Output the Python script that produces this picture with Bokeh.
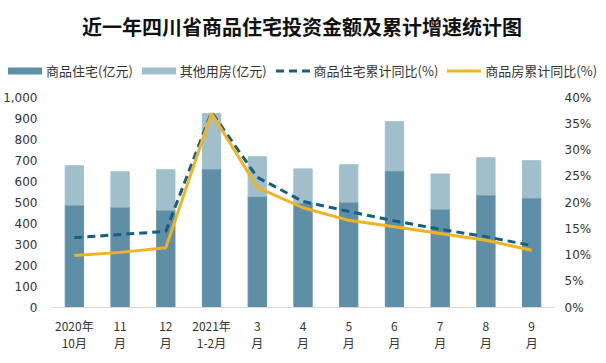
from bokeh.plotting import figure
from bokeh.layouts import column
from bokeh.models import (Range1d, LinearAxis, FactorRange, NumeralTickFormatter,
                          PrintfTickFormatter, FixedTicker, ColumnDataSource, Div)
from bokeh.embed import file_html
from bokeh.resources import INLINE

title = "近一年四川省商品住宅投资金额及累计增速统计图"
months = ["2020年\n10月", "11\n月", "12\n月", "2021年\n1-2月", "3\n月", "4\n月",
          "5\n月", "6\n月", "7\n月", "8\n月", "9\n月"]
residential = [488, 478, 464, 660, 530, 498, 502, 651, 469, 536, 522]
other = [187, 168, 192, 263, 188, 162, 178, 234, 167, 177, 177]
res_yoy = [13.3, 13.9, 14.5, 37.2, 24.8, 20.2, 18.3, 16.5, 14.9, 13.5, 11.8]
com_yoy = [9.9, 10.5, 11.4, 37.0, 22.9, 19.0, 16.6, 15.4, 14.1, 12.8, 10.9]
series_names = ["商品住宅(亿元)", "其他用房(亿元)", "商品住宅累计同比(%)", "商品房累计同比(%)"]
left_ticks = list(range(0, 1001, 100))
right_ticks = list(range(0, 41, 5))

DARK = "#5f8fa7"
LIGHT = "#a1bfcb"
DASH = "#145f82"
GOLD = "#f0b323"
TXT = "#333333"
CJK = "Noto Sans CJK SC"

# ---------- header: title + legend ----------
def swatch(kind, color):
    if kind == "bar":
        shape = f'<rect x="0" y="0.5" width="34" height="7" fill="{color}"/>'
    elif kind == "dash":
        shape = (f'<line x1="0" y1="4" x2="34" y2="4" stroke="{color}" '
                 f'stroke-width="3" stroke-dasharray="8 5"/>')
    else:
        shape = f'<line x1="0" y1="4" x2="34" y2="4" stroke="{color}" stroke-width="3"/>'
    return f'<svg width="34" height="8" style="display:block">{shape}</svg>'

kinds = [("bar", DARK), ("bar", LIGHT), ("dash", DASH), ("line", GOLD)]
items = "".join(
    f'<span style="display:flex;align-items:center;gap:4px;">{swatch(k, c)}'
    f'<span>{n}</span></span>'
    for n, (k, c) in zip(series_names, kinds))

header_html = (
    f'<div style="position:relative;width:590px;height:79px;font-family:\'{CJK}\';color:{TXT};">'
    f'<div style="position:absolute;left:2px;top:8px;width:590px;text-align:center;'
    f'font-size:20px;font-weight:bold;line-height:28px;color:#111111;">{title}</div>'
    f'<div style="position:absolute;left:3px;top:57px;height:18px;display:flex;'
    f'align-items:center;gap:9px;font-size:13px;line-height:18px;white-space:nowrap;">'
    f'{items}</div></div>')
header = Div(text=header_html, width=590, height=79)

# ---------- main chart ----------
src = ColumnDataSource(dict(m=months, res=residential, oth=other, ry=res_yoy, cy=com_yoy))

p = figure(frame_width=503, frame_height=210,
           x_range=FactorRange(factors=months, range_padding=0),
           y_range=Range1d(0, 1000),
           output_backend="svg", toolbar_location=None,
           min_border_left=50, min_border_right=37, min_border_bottom=48,
           min_border_top=8)
p.outline_line_color = None
p.grid.visible = False
p.background_fill_color = "white"

p.vbar_stack(["res", "oth"], x="m", width=0.4, color=[DARK, LIGHT], source=src)

p.extra_y_ranges = {"pct": Range1d(0, 40)}
p.line("m", "ry", source=src, y_range_name="pct", line_dash="8 5",
       line_width=3, color=DASH)
p.line("m", "cy", source=src, y_range_name="pct", line_width=3, color=GOLD)

ya = p.yaxis[0]
ya.ticker = FixedTicker(ticks=left_ticks)
ya.formatter = NumeralTickFormatter(format="0,0")
ya.axis_line_color = None
ya.major_tick_line_color = None
ya.minor_tick_line_color = None
ya.major_tick_out = 0
ya.major_tick_in = 0
ya.major_label_standoff = 14
ya.major_label_text_font = "DejaVu Sans"
ya.major_label_text_font_size = "12px"
ya.major_label_text_color = TXT

ra = LinearAxis(y_range_name="pct", ticker=FixedTicker(ticks=right_ticks),
                formatter=PrintfTickFormatter(format="%d%%"))
ra.axis_line_color = None
ra.major_tick_line_color = None
ra.minor_tick_line_color = None
ra.major_tick_out = 0
ra.major_tick_in = 0
ra.major_label_text_font = "DejaVu Sans"
ra.major_label_text_font_size = "12px"
ra.major_label_text_color = TXT
ra.major_label_standoff = 10
p.add_layout(ra, "right")

xa = p.xaxis[0]
xa.axis_line_color = "#d9d9d9"
xa.major_tick_line_color = None
xa.minor_tick_line_color = None
xa.major_tick_out = 0
xa.major_tick_in = 0
xa.major_label_text_font = CJK
xa.major_label_text_font_size = "12px"
xa.major_label_text_color = TXT
xa.major_label_text_line_height = 1.0
xa.major_label_standoff = 9

layout = column(header, p, spacing=0)
open("out.html", "w").write(file_html(layout, INLINE))
